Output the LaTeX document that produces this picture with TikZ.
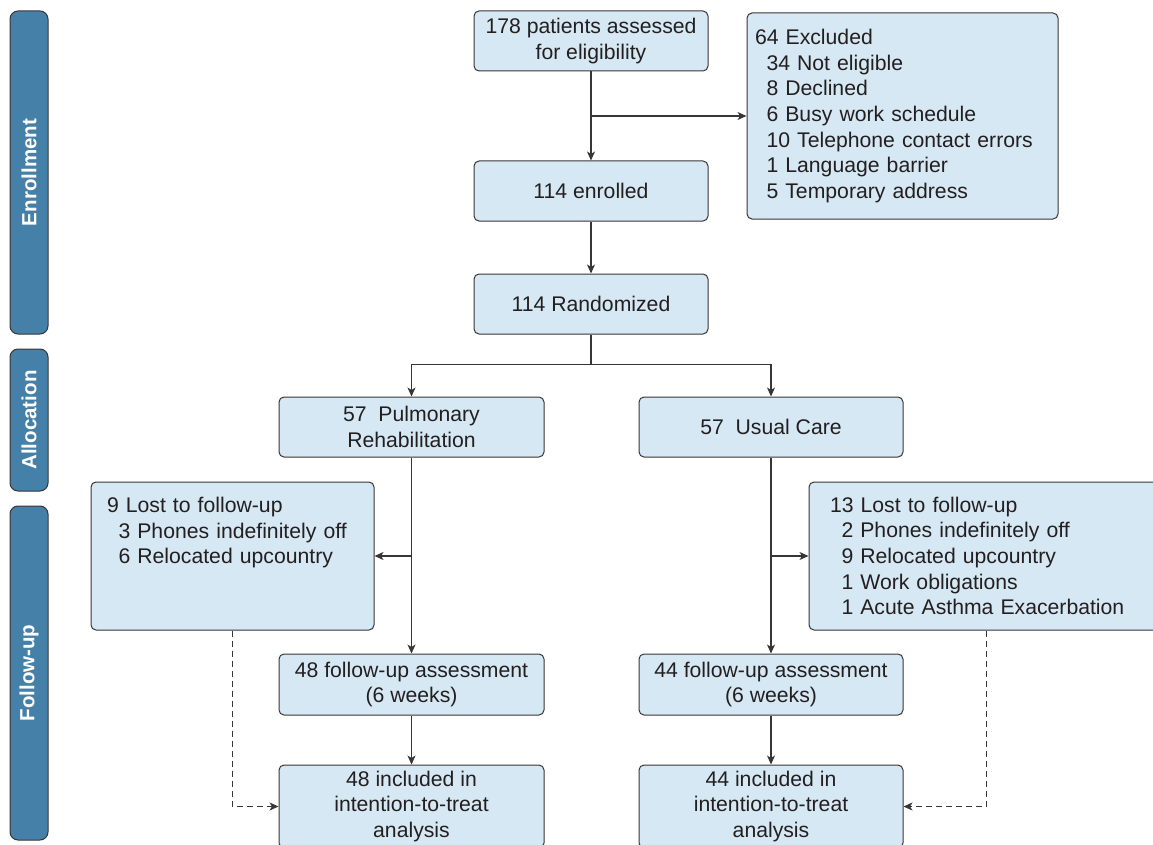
\documentclass[tikz,border=0pt]{standalone}
\usepackage{fontspec}
\setmainfont{Liberation Sans}
\usepackage{xcolor}
\usepackage{tikz}
\usetikzlibrary{arrows.meta}

\definecolor{boxfill}{RGB}{214,232,243}
\definecolor{barfill}{RGB}{69,128,168}
\definecolor{inkgray}{RGB}{35,31,32}
\newcommand{\ind}{\hspace*{11.5pt}}

\begin{document}
\begin{tikzpicture}[
  x=1pt, y=-1pt,
  every node/.style={font=\fontsize{21.2}{25.6}\selectfont, text=inkgray},
  box/.style={rectangle, rounded corners=5pt, draw=inkgray!90, line width=1pt,
    fill=boxfill, align=center, inner sep=4pt},
  listbox/.style={box, align=left, anchor=center},
  sidebar/.style={rectangle, rounded corners=8pt, draw=inkgray!90, line width=1pt,
    fill=barfill, rotate=90, text=white, font=\fontsize{20.5}{24}\selectfont\bfseries,
    minimum height=38pt},
  >={Stealth[length=9pt,width=8pt,inset=2.5pt]},
  flow/.style={->, line width=1.1pt, draw=inkgray!90},
  lost/.style={->, line width=0.9pt, draw=inkgray!90, dash pattern=on 6pt off 4pt}
]
  \clip (0,0) rectangle (1153,845);

  % stage bars
  \node[sidebar, minimum width=323pt] (enrol bar) at (29,172.5) {Enrollment};
  \node[sidebar, minimum width=142pt] (alloc bar) at (29,420) {Allocation};
  \node[sidebar, minimum width=334pt] (fu bar)    at (29,673) {Follow-up};

  % enrollment
  \node[box, minimum width=234pt, minimum height=60pt] (assess) at (591,41)
    {178 patients assessed\\for eligibility};
  \node[box, minimum width=234pt, minimum height=60pt] (enrolled) at (591,191) {114 enrolled};
  \node[box, minimum width=234pt, minimum height=60pt] (rand) at (591,304) {114 Randomized};
  \node[listbox, minimum height=206pt, inner xsep=8pt, text width=295pt] (excl) at (902.5,116)
    {64 Excluded\\
     \ind 34 Not eligible\\
     \ind 8 Declined\\
     \ind 6 Busy work schedule\\
     \ind 10 Telephone contact errors\\
     \ind 1 Language barrier\\
     \ind 5 Temporary address};

  % allocation
  \node[box, minimum width=265pt, minimum height=60pt] (pr) at (411.5,427)
    {57\ \ Pulmonary\\Rehabilitation};
  \node[box, minimum width=264pt, minimum height=60pt] (uc) at (771,427) {57\ \ Usual Care};

  % follow-up
  \node[listbox, minimum height=148pt, inner xsep=16pt, text width=251pt] (lost pr) at (232.5,556)
    {9 Lost to follow-up\\
     \ind 3 Phones indefinitely off\\
     \ind 6 Relocated upcountry\\
     ~\\
     ~};
  \node[listbox, minimum height=148pt, inner xsep=21pt, text width=312pt] (lost uc) at (986,556)
    {13 Lost to follow-up\\
     \ind 2 Phones indefinitely off\\
     \ind 9 Relocated upcountry\\
     \ind 1 Work obligations\\
     \ind 1 Acute Asthma Exacerbation};
  \node[box, minimum width=265pt, minimum height=61pt] (fu pr) at (411.5,684.5)
    {48 follow-up assessment\\(6 weeks)};
  \node[box, minimum width=264pt, minimum height=61pt] (fu uc) at (771,684.5)
    {44 follow-up assessment\\(6 weeks)};
  \node[box, minimum width=265pt, minimum height=83pt] (itt pr) at (411.5,806.5)
    {48 included in\\intention-to-treat\\analysis};
  \node[box, minimum width=264pt, minimum height=83pt] (itt uc) at (771,806.5)
    {44 included in\\intention-to-treat\\analysis};

  % connectors
  \draw[flow] (assess) -- (enrolled);
  \draw[flow] (assess.south |- excl.west) -- (excl.west);
  \draw[flow] (enrolled) -- (rand);
  \draw[line width=1.1pt, draw=inkgray!90] (rand.south) -- ++(0,30) coordinate (split);
  \draw[flow] (split) -| (pr.north);
  \draw[flow] (split) -| (uc.north);
  \draw[flow] (pr) -- (fu pr);
  \draw[flow] (pr.south |- lost pr.east) -- (lost pr.east);
  \draw[flow] (uc) -- (fu uc);
  \draw[flow] (uc.south |- lost uc.west) -- (lost uc.west);
  \draw[flow] (fu pr) -- (itt pr);
  \draw[flow] (fu uc) -- (itt uc);
  \draw[lost] (lost pr.south) |- (itt pr.west);
  \draw[lost] (lost uc.south) |- (itt uc.east);
\end{tikzpicture}
\end{document}
